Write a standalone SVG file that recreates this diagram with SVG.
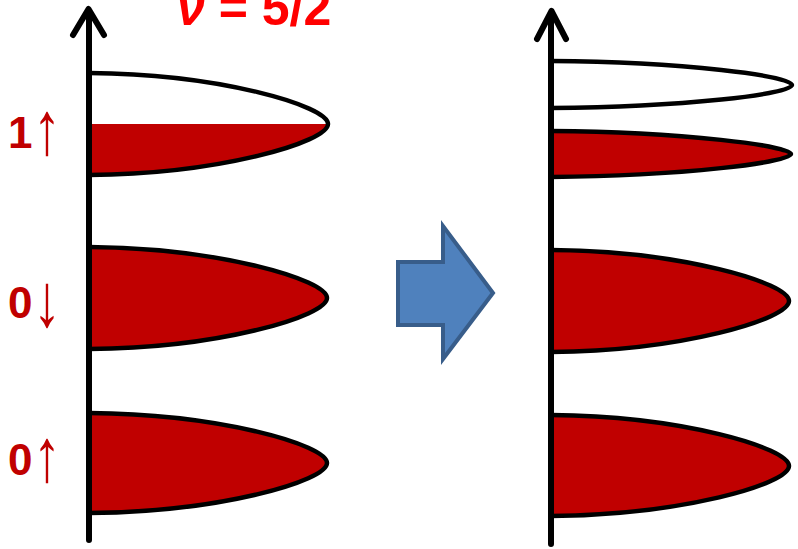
<svg xmlns="http://www.w3.org/2000/svg" width="798" height="549" viewBox="0 0 798 549">
<style>
.lobe{stroke:#000;stroke-width:4.5;stroke-linejoin:round}
.red{fill:#C00000}
.white{fill:#FFFFFF}
.axis{fill:none;stroke:#000;stroke-width:6;stroke-linecap:round;stroke-linejoin:round}
.lbl{font-family:"Liberation Sans",Arial,sans-serif;font-size:44px;font-weight:bold;fill:#C00000}
.arr{font-family:"Liberation Sans",Arial,sans-serif;font-size:75px;font-weight:normal;fill:#C00000;text-anchor:middle}
.title{font-family:"Liberation Sans",Arial,sans-serif;font-size:50px;font-weight:bold;fill:#FF0000}
</style>
<rect width="798" height="549" fill="#FFFFFF"/>
<text class="title" x="177" y="25"><tspan font-style="italic">ν</tspan> = 5/2</text>
<g id="left-lobe-1up">
<path class="white" d="M89 73 C220 74 328 106 328 124 C328 142 220 174 89 175 Z"/>
<path class="red" d="M89 124 L328 124 C328 142 220 174 89 175 Z"/>
<path class="lobe" fill="none" d="M89 73 C220 74 328 106 328 124 C328 142 220 174 89 175"/>
</g>
<g id="left-lobe-0down">
<path class="lobe red" d="M89 247 C220 248 327 280 327 298 C327 316 220 348 89 349"/>
</g>
<g id="left-lobe-0up">
<path class="lobe red" d="M89 413 C220 414 327 445 327 463 C327 481 220 512 89 513"/>
</g>
<g id="left-axis">
<path class="axis" d="M89 540 L89 10 M73 35 L88.5 9 L104 35"/>
</g>
<g id="labels">
<text class="lbl" x="8" y="148">1</text>
<text class="arr" transform="translate(47,154) scale(0.75,1)">↑</text>
<text class="lbl" x="8" y="318">0</text>
<text class="arr" transform="translate(47,326) scale(0.75,1)">↓</text>
<text class="lbl" x="8" y="475">0</text>
<text class="arr" transform="translate(47,481) scale(0.75,1)">↑</text>
</g>
<g id="transition-arrow">
<polygon points="398,262 443,262 443,226 493,293 443,359 443,325 398,325" fill="#4F81BD" stroke="#385D8A" stroke-width="4" stroke-linejoin="miter"/>
</g>
<g id="right-lobe-empty">
<path class="lobe white" d="M551 61 C684 62 792 76 792 85 C792 94 684 107 551 108"/>
</g>
<g id="right-lobe-2">
<path class="lobe red" d="M551 131 C684 132 791 146 791 154 C791 162 684 176 551 177"/>
</g>
<g id="right-lobe-3">
<path class="lobe red" d="M551 250 C682 251 789 283 789 301 C789 319 682 351 551 352"/>
</g>
<g id="right-lobe-4">
<path class="lobe red" d="M551 415 C682 416 789 448 789 466 C789 484 682 515 551 516"/>
</g>
<g id="right-axis">
<path class="axis" d="M551 544 L551 12 M537 39 L551.5 11 L566 39"/>
</g>
</svg>
